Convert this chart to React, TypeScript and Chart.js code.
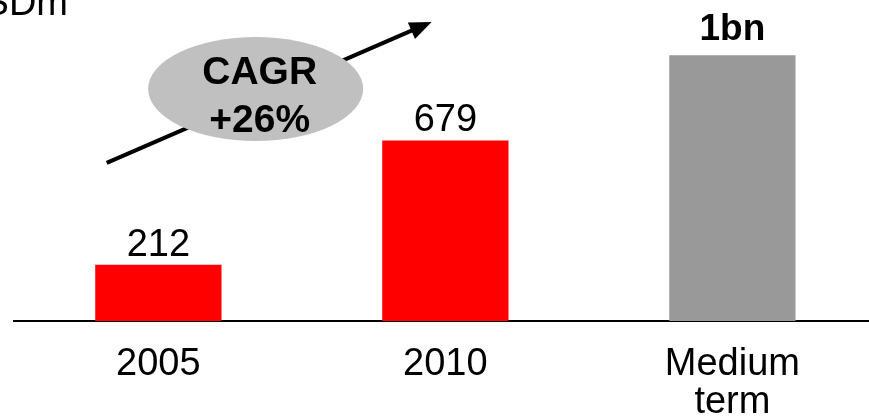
import React, { useEffect, useRef } from "react";
import { Chart, registerables } from "chart.js";

Chart.register(...registerables);

const categories = ["2005", "2010", "Medium term"];
const tickLabels = [["2005"], ["2010"], ["Medium", "term"]];
const values = [212, 679, 1000];
const valueLabels = ["212", "679", "1bn"];
const valueLabelBold = [false, false, true];
const barColors = ["#ff0000", "#ff0000", "#999999"];
const unitLabel = "USDm";
const cagrLines = ["CAGR", "+26%"];

const FONT = "'Liberation Sans', Arial, Helvetica, sans-serif";

// annotation anchors in data space (x index, y value)
const arrowFrom = { x: -0.18, y: 595 };
const arrowTo = { x: 0.952, y: 1125 };
const bubbleCenter = { x: 0.339, y: 873 };

const overlayPlugin = {
  id: "overlay",
  afterDatasetsDraw(chart: any) {
    const ctx = chart.ctx as CanvasRenderingContext2D;
    const xs = chart.scales.x;
    const ys = chart.scales.y;
    const meta = chart.getDatasetMeta(0);
    ctx.save();

    // value labels
    ctx.fillStyle = "#000";
    ctx.textAlign = "center";
    ctx.textBaseline = "alphabetic";
    meta.data.forEach((bar: any, i: number) => {
      const bold = valueLabelBold[i];
      ctx.font = (bold ? "bold 37px " : "38px ") + FONT;
      ctx.fillText(valueLabels[i], bar.x, bar.y - (bold ? 15 : 9));
    });

    // unit label (partly cut off at top-left)
    ctx.font = "38px " + FONT;
    ctx.textAlign = "right";
    ctx.fillText(unitLabel, chart.chartArea.left + 54, 15);

    // arrow
    const x0 = xs.getPixelForValue(arrowFrom.x);
    const y0 = ys.getPixelForValue(arrowFrom.y);
    const x1 = xs.getPixelForValue(arrowTo.x);
    const y1 = ys.getPixelForValue(arrowTo.y);
    const ang = Math.atan2(y1 - y0, x1 - x0);
    const headLen = 22;
    const headHalf = 9;
    const bx = x1 - Math.cos(ang) * headLen;
    const by = y1 - Math.sin(ang) * headLen;
    ctx.strokeStyle = "#000";
    ctx.lineWidth = 4;
    ctx.beginPath();
    ctx.moveTo(x0, y0);
    ctx.lineTo(bx + Math.cos(ang) * 2, by + Math.sin(ang) * 2);
    ctx.stroke();
    ctx.beginPath();
    ctx.moveTo(x1, y1);
    ctx.lineTo(bx + Math.sin(ang) * headHalf, by - Math.cos(ang) * headHalf);
    ctx.lineTo(bx - Math.sin(ang) * headHalf, by + Math.cos(ang) * headHalf);
    ctx.closePath();
    ctx.fillStyle = "#000";
    ctx.fill();

    // CAGR bubble
    const cx = xs.getPixelForValue(bubbleCenter.x);
    const cy = ys.getPixelForValue(bubbleCenter.y);
    ctx.beginPath();
    ctx.ellipse(cx, cy, 107.5, 52, 0, 0, Math.PI * 2);
    ctx.fillStyle = "#c0c0c0";
    ctx.fill();
    ctx.fillStyle = "#000";
    ctx.textAlign = "center";
    ctx.font = "bold 39px " + FONT;
    ctx.fillText(cagrLines[0], cx + 4, cy - 5);
    ctx.fillText(cagrLines[1], cx + 4, cy + 43);

    ctx.restore();
  },
};

export default function App() {
  const ref = useRef<HTMLCanvasElement | null>(null);

  useEffect(() => {
    if (!ref.current) return;
    const chart = new Chart(ref.current, {
      type: "bar",
      data: {
        labels: categories,
        datasets: [
          {
            data: values.map((v, i) => ({ x: i, y: v })) as any,
            backgroundColor: barColors,
            borderWidth: 0,
            categoryPercentage: 1,
            barPercentage: 0.44,
          },
        ],
      },
      options: {
        animation: false,
        responsive: false,
        devicePixelRatio: 1,
        layout: { padding: { top: 2, left: 14, right: 0, bottom: 0 } },
        plugins: {
          legend: { display: false },
          tooltip: { enabled: false },
        },
        scales: {
          x: {
            type: "linear",
            offset: false,
            bounds: "data",
            min: -0.503,
            max: 2.476,
            afterBuildTicks: (s: any) => {
              s.ticks = categories.map((_, i) => ({ value: i }));
            },
            afterFit: (s: any) => {
              s.height = 95;
            },
            ticks: {
              autoSkip: false,
              maxRotation: 0,
              padding: 25,
              color: "#000",
              font: { family: FONT, size: 38, lineHeight: 1 },
              callback: (v: any) => tickLabels[Math.round(Number(v))] as any,
            },
            grid: { display: false, drawTicks: false, offset: false },
            border: { display: true, color: "#000", width: 2 },
          },
          y: { display: false, min: 0, max: 1200 },
        },
      },
      plugins: [overlayPlugin],
    });
    return () => chart.destroy();
  }, []);

  return (
    <div style={{ position: "fixed", left: 0, top: 0, width: 869, height: 416 }}>
      <canvas ref={ref} width={869} height={416} style={{ display: "block" }} />
    </div>
  );
}
